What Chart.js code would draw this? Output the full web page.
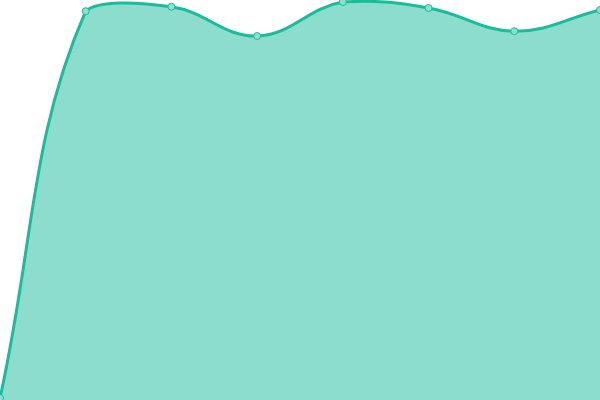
<!DOCTYPE html>
<html>
<head>
<meta charset="utf-8">
<script src="https://cdn.jsdelivr.net/npm/chart.js@4"></script>
<style>
  html, body { margin: 0; padding: 0; background: #fff; }
  #wrap { width: 600px; height: 400px; }
</style>
</head>
<body>
<div id="wrap"><canvas id="areaChart"></canvas></div>
<script>
// Data
const labels = ['1', '2', '3', '4', '5', '6', '7', '8'];
const values = [0.5, 97.2, 98.3, 91, 99.5, 98, 92.2, 97.5];
const yMin = 0;
const yMax = 100;

const ctx = document.getElementById('areaChart').getContext('2d');
const chart = new Chart(ctx, {
    type: 'line',
    data: {
        labels: labels,
        datasets: [{
            data: values,
            borderColor: '#1abc9c',
            backgroundColor: 'rgba(26, 188, 156, 0.5)',
            borderWidth: 3,
            pointRadius: 3.5,
            pointBorderWidth: 1,
            pointBackgroundColor: 'rgba(140, 224, 207, 1)',
            pointBorderColor: '#1abc9c',
            fill: true,
            tension: 0.4
        }]
    },
    options: {
        responsive: true,
        maintainAspectRatio: false,
        animation: false,
        layout: { padding: 0, autoPadding: false },
        scales: {
            x: { display: false },
            y: { display: false, min: yMin, max: yMax }
        },
        plugins: { legend: { display: false }, tooltip: { enabled: false } }
    }
});
</script>
</body>
</html>
